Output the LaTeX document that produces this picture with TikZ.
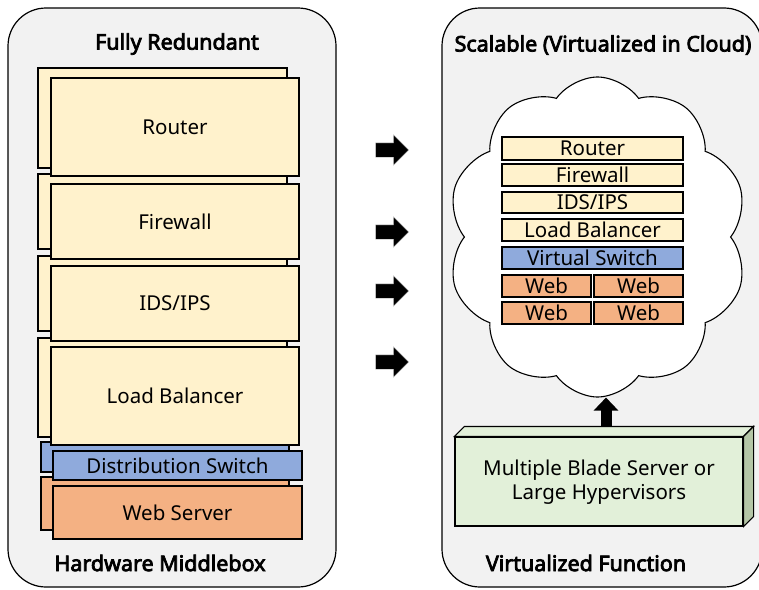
\documentclass[tikz,border=0pt]{standalone}
\usepackage{fontspec}
\setmainfont{Noto Sans}[BoldFont={Noto Sans}, BoldFeatures={FakeBold=3.5}]
\usetikzlibrary{shapes.symbols,shapes.arrows,arrows.meta}

\definecolor{panelgray}{HTML}{F2F2F2}
\definecolor{mbyellow}{HTML}{FFF2CC}
\definecolor{swblue}{HTML}{8FAADC}
\definecolor{weborange}{HTML}{F4B183}
\definecolor{hvgreen}{HTML}{E2F0D9}
\definecolor{hvside}{HTML}{B4C6A6}

\tikzset{
  panel/.style={draw=black, line width=1.2pt, fill=panelgray, rounded corners=38pt},
  box/.style={draw=black, line width=1.1pt, inner sep=0pt, font=\fontsize{20.5}{23}\selectfont},
  mbox/.style={box, fill=mbyellow},
  swbox/.style={box, fill=swblue},
  webbox/.style={box, fill=weborange},
  heading/.style={font=\fontsize{21.5}{24}\selectfont\bfseries},
  shiftarrow/.style={single arrow, fill=black, draw=black!20, line width=0.4pt,
    minimum height=33pt, minimum width=30pt, inner xsep=0pt, inner ysep=7pt,
    single arrow head extend=8pt, single arrow head indent=0pt},
  lift/.style={line width=11pt, -{Triangle[width=24pt,length=13pt]}},
}

\begin{document}
\begin{tikzpicture}[x=1pt,y=-1pt]
  \useasboundingbox (0,0) rectangle (759,589);
  \clip (0,0) rectangle (759,589);

  % two panels
  \draw[panel] (8,8) rectangle (336,587);
  \draw[panel] (442,8) rectangle (762,587);

  \node[heading] (hwtop) at (177,44) {Fully Redundant};
  \node[heading] (hwbot) at (160,563) {Hardware Middlebox};
  \node[heading] (vftop) at (603,45) {Scalable (Virtualized in Cloud)};
  \node[heading] (vfbot) at (586,563) {Virtualized Function};

  % redundant copies behind
  \node[mbox,   minimum width=249pt, minimum height=100pt] (routerB) at (162.5,118.0) {};
  \node[mbox,   minimum width=249pt, minimum height=75pt]  (fwB)     at (162.5,211.5) {};
  \node[mbox,   minimum width=249pt, minimum height=75pt]  (idsB)    at (162.5,293.5) {};
  \node[mbox,   minimum width=249pt, minimum height=99pt]  (lbB)     at (162.5,387.5) {};
  \node[swbox,  minimum width=248pt, minimum height=30pt]  (dswB)    at (165.0,457.0) {};
  \node[webbox, minimum width=248pt, minimum height=53pt]  (webB)    at (165.0,503.5) {};

  % hardware boxes
  \node[mbox,   minimum width=248pt, minimum height=98pt] (router) at (175.0,127.0) {Router};
  \node[mbox,   minimum width=248pt, minimum height=75pt] (fw)     at (175.0,221.5) {Firewall};
  \node[mbox,   minimum width=248pt, minimum height=75pt] (ids)    at (175.0,303.5) {IDS/IPS};
  \node[mbox,   minimum width=248pt, minimum height=98pt] (lb)     at (175.0,396.0) {Load Balancer};
  \node[swbox,  minimum width=249pt, minimum height=29pt] (dsw)    at (177.5,465.5) {Distribution Switch};
  \node[webbox, minimum width=249pt, minimum height=53pt] (web)    at (177.5,512.5) {Web Server};

  % arrows between the panels
  \node[shiftarrow] (go1) at (388.5,150) {};
  \node[shiftarrow] (go2) at (388.5,232) {};
  \node[shiftarrow] (go3) at (388.5,291) {};
  \node[shiftarrow] (go4) at (388.5,362) {};

  % cloud with virtual functions
  \node[cloud, draw=black, line width=1.1pt, fill=white, cloud puffs=10, cloud puff arc=110,
        minimum width=300pt, minimum height=320pt, inner sep=0pt] (cloud) at (597.5,237) {};

  \node[mbox,   minimum width=181pt, minimum height=23pt] (vrouter) at (592.5,148.5) {Router};
  \node[mbox,   minimum width=181pt, minimum height=22pt] (vfw)     at (592.5,175.0) {Firewall};
  \node[mbox,   minimum width=181pt, minimum height=21pt] (vids)    at (592.5,202.5) {IDS/IPS};
  \node[mbox,   minimum width=181pt, minimum height=22pt] (vlb)     at (592.5,230.0) {Load Balancer};
  \node[swbox,  minimum width=181pt, minimum height=22pt] (vsw)     at (592.5,258.0) {Virtual Switch};
  \node[webbox, minimum width=89pt,  minimum height=22pt] (web1)    at (546.5,286.0) {Web};
  \node[webbox, minimum width=89pt,  minimum height=22pt] (web2)    at (638.5,286.0) {Web};
  \node[webbox, minimum width=89pt,  minimum height=22pt] (web3)    at (546.5,313.0) {Web};
  \node[webbox, minimum width=89pt,  minimum height=22pt] (web4)    at (638.5,313.0) {Web};

  % hypervisor block
  \node[box, fill=hvgreen, minimum width=288pt, minimum height=89pt, align=center,
        font=\fontsize{20.5}{24.5}\selectfont, text depth=4pt] (hv) at (599,481.5)
        {Multiple Blade Server or\\Large Hypervisors};
  \draw[line width=1.1pt, fill=hvgreen] (hv.north west) -- ++(10,-10)
    -- ([xshift=10pt,yshift=10pt]hv.north east) -- (hv.north east) -- cycle;
  \draw[line width=1.1pt, fill=hvside] (hv.north east) -- ++(10,-10)
    -- ([xshift=10pt,yshift=10pt]hv.south east) -- (hv.south east) -- cycle;

  \coordinate (up) at ([xshift=7pt,yshift=10pt]hv.north);
  \draw[lift] (up) -- (up |- cloud.south);
\end{tikzpicture}
\end{document}
